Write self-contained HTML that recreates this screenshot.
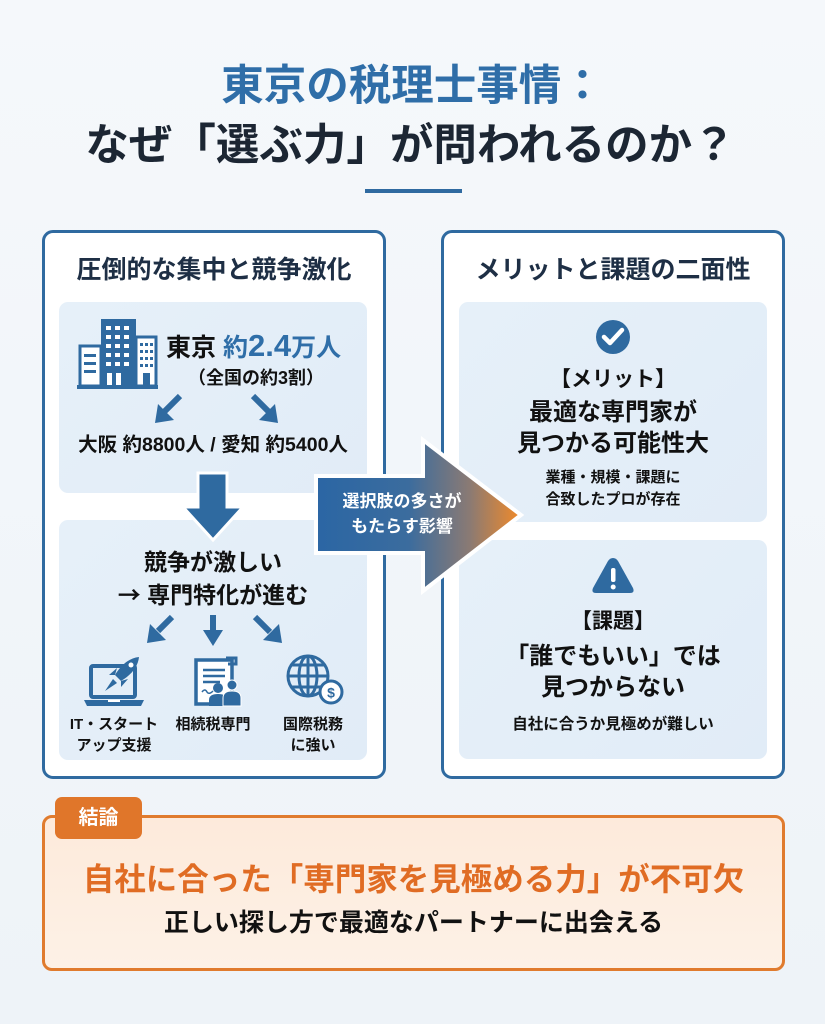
<!DOCTYPE html>
<html><head><meta charset="utf-8">
<style>
*{margin:0;padding:0;box-sizing:border-box}
body{width:825px;height:1024px;overflow:hidden;background:linear-gradient(#f5f8fb,#eef3f8);font-family:"Liberation Sans","Noto Sans CJK JP",sans-serif;position:relative;color:#1a1f26}
.a{position:absolute;white-space:nowrap}
.c{position:absolute;left:0;width:100%;text-align:center;white-space:nowrap}
.b{font-weight:bold}
.j{font-family:"Noto Sans CJK JP",sans-serif}
.panel{position:absolute;background:#fff;border:3px solid #2f6aa0;border-radius:11px}
.inner{position:absolute;background:linear-gradient(135deg,#e6f0f9,#e1ecf7);border-radius:9px}
</style></head><body>

<div class="c b" style="top:61px;font-size:42.5px;line-height:52px;color:#2f6ea8;left:0px">東京の税理士事情：</div>
<div class="c b" style="top:120px;font-size:43.5px;line-height:52px;color:#1c2633;left:-2px">なぜ「選ぶ力」が問われるのか？</div>
<div class="a" style="left:365px;top:189px;width:97px;height:4px;background:#2f6aa0"></div>

<!-- Left panel -->
<div class="panel" style="left:42px;top:230px;width:344px;height:549px"></div>
<div class="a b" style="left:42px;width:344px;text-align:center;top:254px;font-size:25px;line-height:32px;color:#1e2f45">圧倒的な集中と競争激化</div>

<div class="inner" style="left:59px;top:302px;width:308px;height:191px"></div>
<div class="inner" style="left:59px;top:520px;width:308px;height:240px"></div>

<svg class="a" style="left:0;top:0" width="825" height="1024" viewBox="0 0 825 1024">
 <g>
  <rect x="80" y="346" width="21" height="40" fill="#fff" stroke="#2f6aa0" stroke-width="3"/>
  <rect x="84" y="354" width="12" height="3" fill="#2f6aa0"/><rect x="84" y="362" width="12" height="3" fill="#2f6aa0"/><rect x="84" y="370" width="12" height="3" fill="#2f6aa0"/>
  <rect x="101" y="319" width="35" height="67" fill="#2f6aa0"/>
  <g fill="#fff">
   <rect x="106" y="326" width="5" height="4"/><rect x="115" y="326" width="5" height="4"/><rect x="124" y="326" width="5" height="4"/>
   <rect x="106" y="335" width="5" height="4"/><rect x="115" y="335" width="5" height="4"/><rect x="124" y="335" width="5" height="4"/>
   <rect x="106" y="344" width="5" height="4"/><rect x="115" y="344" width="5" height="4"/><rect x="124" y="344" width="5" height="4"/>
   <rect x="106" y="353" width="5" height="4"/><rect x="115" y="353" width="5" height="4"/><rect x="124" y="353" width="5" height="4"/>
   <rect x="106" y="362" width="5" height="4"/><rect x="115" y="362" width="5" height="4"/><rect x="124" y="362" width="5" height="4"/>
   <rect x="107" y="373" width="5" height="13"/><rect x="116" y="373" width="5" height="13"/>
  </g>
  <rect x="136" y="337" width="20" height="49" fill="#fff" stroke="#2f6aa0" stroke-width="3"/>
  <g fill="#2f6aa0">
   <rect x="140" y="343" width="3" height="3"/><rect x="145" y="343" width="3" height="3"/><rect x="150" y="343" width="3" height="3"/>
   <rect x="140" y="350" width="3" height="3"/><rect x="145" y="350" width="3" height="3"/><rect x="150" y="350" width="3" height="3"/>
   <rect x="140" y="357" width="3" height="3"/><rect x="145" y="357" width="3" height="3"/><rect x="150" y="357" width="3" height="3"/>
   <rect x="140" y="364" width="3" height="3"/><rect x="145" y="364" width="3" height="3"/><rect x="150" y="364" width="3" height="3"/>
   <rect x="143" y="373" width="7" height="13"/>
  </g>
  <rect x="77" y="385" width="81" height="4" fill="#2f6aa0"/>
 </g>

 <g stroke="#2f6aa0" stroke-width="6" fill="none" stroke-linecap="butt">
  <line x1="180" y1="396" x2="164" y2="412"/>
  <line x1="253" y1="396" x2="269" y2="412"/>
 </g>
 <polygon points="155,423 158,404 174,420" fill="#2f6aa0"/>
 <polygon points="278,423 275,404 259,420" fill="#2f6aa0"/>

 <polygon points="198,473 227,473 227,507 243,507 213,540 183,507 198,507" fill="#2f6aa0" stroke="#fff" stroke-width="3" stroke-linejoin="miter"/>

 <g stroke="#2f6aa0" stroke-width="6" fill="none">
  <line x1="172" y1="617" x2="158" y2="631"/>
  <line x1="213" y1="615" x2="213" y2="632"/>
  <line x1="255" y1="617" x2="270" y2="632"/>
 </g>
 <polygon points="147,643 150,624 166,640" fill="#2f6aa0"/>
 <polygon points="203,630 223,630 213,646" fill="#2f6aa0"/>
 <polygon points="282,643 279,624 263,640" fill="#2f6aa0"/>

 <rect x="91" y="666" width="44" height="31" rx="2" fill="none" stroke="#2f6aa0" stroke-width="4"/>
 <path d="M84 700 H144 L141 706 H87 Z" fill="#2f6aa0"/>
 <rect x="108" y="700" width="12" height="2" fill="#fff"/>
 <path d="M139 657 C129 658 121 665 115 675 L121 681 C131 675 138 667 139 657 Z" fill="#2f6aa0"/>
 <path d="M115 675 L109 675 L117 668 Z" fill="#2f6aa0"/>
 <path d="M121 681 L121 687 L128 679 Z" fill="#2f6aa0"/>
 <path d="M113 679 L105 691 L117 683 Z" fill="#2f6aa0"/>
 <circle cx="131" cy="665" r="2.5" fill="#fff"/>

 <path d="M196 660 H232 V704 H196 Z" fill="#fff" stroke="#2f6aa0" stroke-width="3.5"/>
 <path d="M226 658 H236 V664 H228" fill="none" stroke="#2f6aa0" stroke-width="3"/>
 <g stroke="#2f6aa0" stroke-width="2.5">
  <line x1="203" y1="670" x2="225" y2="670"/>
  <line x1="203" y1="676" x2="225" y2="676"/>
  <line x1="203" y1="682" x2="220" y2="682"/>
 </g>
 <path d="M202 692 q3 -4 5 0 q2 3 6 -1" stroke="#2f6aa0" stroke-width="1.5" fill="none"/>
 <circle cx="218" cy="688" r="5" fill="#2f6aa0"/>
 <path d="M209 706 V700 q0 -6 9 -6 q9 0 9 6 V706 Z" fill="#2f6aa0"/>
 <circle cx="232" cy="685" r="5" fill="#2f6aa0" stroke="#fff" stroke-width="1"/>
 <path d="M223 706 V698 q0 -7 9 -7 q9 0 9 7 V706 Z" fill="#2f6aa0" stroke="#fff" stroke-width="1"/>

 <g fill="none" stroke="#2f6aa0" stroke-width="3">
  <circle cx="308" cy="676" r="20"/>
  <ellipse cx="308" cy="676" rx="9" ry="20"/>
  <line x1="308" y1="656" x2="308" y2="696"/>
  <line x1="288" y1="676" x2="328" y2="676"/>
  <path d="M291 665 H325 M291 687 H325"/>
 </g>
 <circle cx="331" cy="692" r="11" fill="#fff" stroke="#2f6aa0" stroke-width="3"/>
 <text x="331" y="697.5" font-size="14" font-weight="bold" fill="#2f6aa0" text-anchor="middle" font-family="Liberation Sans, sans-serif">$</text>
</svg>

<div class="a b" style="left:166px;top:328px;font-size:25px;line-height:36px;color:#111"><span>東京</span> <span style="color:#2f6ea8">約<span style="font-size:31px">2.4</span>万人</span></div>
<div class="a b" style="left:188px;top:365px;font-size:18px;line-height:26px;color:#111">（全国の約3割）</div>
<div class="a b" style="left:59px;width:308px;text-align:center;top:432px;font-size:19.5px;line-height:27px;color:#111">大阪 約8800人 / 愛知 約5400人</div>

<div class="a b" style="left:59px;width:308px;text-align:center;top:547px;font-size:23px;line-height:31px;color:#111">競争が激しい</div>
<div class="a b" style="left:59px;width:308px;text-align:center;top:578px;font-size:23px;line-height:31px;color:#111"><span class="j">→</span> 専門特化が進む</div>

<div class="a b" style="left:58px;width:112px;text-align:center;top:714px;font-size:15px;line-height:21px;color:#111">IT・スタート<br>アップ支援</div>
<div class="a b" style="left:163px;width:100px;text-align:center;top:714px;font-size:15px;line-height:21px;color:#111">相続税専門</div>
<div class="a b" style="left:265px;width:96px;text-align:center;top:714px;font-size:15px;line-height:21px;color:#111">国際税務<br>に強い</div>

<!-- Right panel -->
<div class="panel" style="left:441px;top:230px;width:344px;height:549px"></div>
<div class="a b" style="left:441px;width:344px;text-align:center;top:254px;font-size:25px;line-height:32px;color:#1e2f45">メリットと課題の二面性</div>
<div class="inner" style="left:459px;top:302px;width:308px;height:220px"></div>
<div class="inner" style="left:459px;top:540px;width:308px;height:219px"></div>

<svg class="a" style="left:0;top:0" width="825" height="1024" viewBox="0 0 825 1024">
 <circle cx="613" cy="337" r="17" fill="#2f6aa0"/>
 <path d="M604 337 L610 343 L622 330" stroke="#fff" stroke-width="4.5" fill="none" stroke-linecap="round" stroke-linejoin="round"/>
 <path d="M613 558 Q616 558 618 561 L633 588 Q635 593 630 593 H596 Q591 593 593 588 L608 561 Q610 558 613 558 Z" fill="#2f6aa0"/>
 <rect x="611" y="568" width="4.5" height="14" rx="2" fill="#fff"/>
 <circle cx="613.2" cy="587" r="2.5" fill="#fff"/>
</svg>

<div class="a b" style="left:459px;width:308px;text-align:center;top:366px;font-size:21px;line-height:28px;color:#111">【メリット】</div>
<div class="a b" style="left:459px;width:308px;text-align:center;top:397px;font-size:24px;line-height:31px;color:#111">最適な専門家が<br>見つかる可能性大</div>
<div class="a b" style="left:459px;width:308px;text-align:center;top:467px;font-size:15px;line-height:22px;color:#111">業種・規模・課題に<br>合致したプロが存在</div>

<div class="a b" style="left:459px;width:308px;text-align:center;top:608px;font-size:21px;line-height:28px;color:#111">【課題】</div>
<div class="a b" style="left:459px;width:308px;text-align:center;top:641px;font-size:24px;line-height:31px;color:#111">「誰でもいい」では<br>見つからない</div>
<div class="a b" style="left:459px;width:308px;text-align:center;top:714px;font-size:15.5px;line-height:22px;color:#111">自社に合うか見極めが難しい</div>

<!-- middle arrow -->
<svg class="a" style="left:0;top:0" width="825" height="1024" viewBox="0 0 825 1024">
 <defs>
  <linearGradient id="g" x1="317" y1="0" x2="520" y2="0" gradientUnits="userSpaceOnUse">
   <stop offset="0" stop-color="#2b66a4"/>
   <stop offset="0.45" stop-color="#3b6c9e"/>
   <stop offset="0.75" stop-color="#8a7a74"/>
   <stop offset="1" stop-color="#f08a2a"/>
  </linearGradient>
 </defs>
 <polygon points="316,476 423,476 423,440 521,515 423,591 423,553 316,553" fill="url(#g)" stroke="#fff" stroke-width="4" stroke-linejoin="miter"/>
</svg>
<div class="a b" style="left:317px;width:170px;text-align:center;top:489px;font-size:17px;line-height:25px;color:#fff">選択肢の多さが<br>もたらす影響</div>

<!-- bottom -->
<div class="a" style="left:42px;top:815px;width:743px;height:156px;border:3px solid #e07b2e;border-radius:10px;background:linear-gradient(180deg,#fdeadb,#fdf1e6)"></div>
<div class="a b" style="left:55px;top:797px;width:87px;height:42px;background:#e0762a;border-radius:7px;color:#fff;font-size:20px;line-height:42px;text-align:center">結論</div>
<div class="a b" style="left:42px;width:743px;text-align:center;top:859px;font-size:31.5px;line-height:40px;color:#e06c24">自社に合った「専門家を見極める力」が不可欠</div>
<div class="a b" style="left:42px;width:743px;text-align:center;top:907px;font-size:25px;line-height:32px;color:#111">正しい探し方で最適なパートナーに出会える</div>

</body></html>
